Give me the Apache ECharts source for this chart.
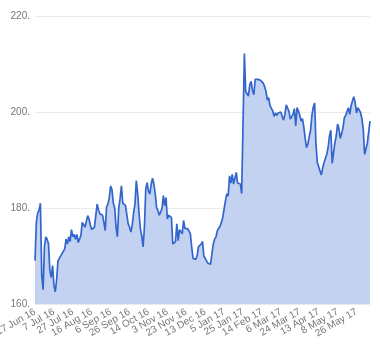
<!DOCTYPE html>
<html><head><meta charset="utf-8">
<script src="https://cdn.jsdelivr.net/npm/echarts@6/dist/echarts.min.js"></script>
<style>html,body{margin:0;padding:0;background:#fff}#c{width:380px;height:360px}</style>
</head><body><div id="c"></div>
<script>
// Tick label dates (every 14th trading day)
const tickLabels = ["17 Jun 16","7 Jul 16","27 Jul 16","16 Aug 16","6 Sep 16","26 Sep 16","14 Oct 16","3 Nov 16","23 Nov 16","13 Dec 16","5 Jan 17","25 Jan 17","14 Feb 17","6 Mar 17","24 Mar 17","13 Apr 17","8 May 17","26 May 17"];
const yTicks = [160, 180, 200, 220];
// Series values (one per trading day)
const prices = [
169,177,179,179.5,181,166,163,172,174,173.5,172.5,167,165.5,168,164,162.5,165,169,169.5,169.5,
170.5,170.5,171.5,173.5,172.5,174,173,175.5,174,174.5,173.5,174.5,172.8,172.6,174.3,177,176.7,176,175.7,178.4,
177.7,176.4,175.5,175.3,176,175.7,180.8,179.6,178.8,178.6,178.5,177,175.3,180.3,180.8,182.2,184.6,183.8,181,180,
176,174,180,182,184.6,181,181.2,180.5,180.8,176.7,176,175,176.5,179,180.8,185.7,183,179,175.7,174.2,
171.9,176,184,185.3,183.5,182.9,184.9,186.2,185,183,180.1,179.5,178.5,178.1,179.8,182.6,180.5,182.2,177.7,178.5,
178.8,178,172.5,172.2,173,176.7,173.2,175.5,175.2,174.6,177.4,175.7,175.5,175.7,175.2,174.6,171.9,169.5,169.1,169.3,
170,171.9,171.5,172.5,173,170,169.5,169,168.5,168.1,168.3,170.5,172.5,173.5,174,175.3,175.5,176.2,177,178,
179.8,181.5,183,182.5,186.7,185.2,187,185,185.3,187.4,185.2,185,185,183,182.8,212.2,204.3,203.8,203.3,205.7,
206.4,204.5,203.6,206.8,207,206.8,206.9,206.6,206.4,206,205.3,204.3,202.5,203,201.3,200.8,200.2,199.1,199.8,199.3,
199.8,199.5,200,199.1,198.3,199.5,201.5,200.8,200.2,198.5,198.2,199.5,200.7,197.1,200.9,200.2,199.3,198.1,198.6,196.9,
194.5,192.6,193.3,194.8,196.2,199.3,201,201.9,193.3,189.5,188.6,187.7,186.9,188.4,189.5,189.3,191.2,192.6,195,196.2,
189.3,191.5,193.6,195,197.5,196.5,194.5,195.5,196.7,198.8,199.3,199,200.9,199.5,201.3,202.3,203.2,202,199.8,200.9,
200.5,199.9,198.6,196.5,191.2,191.2,193.5,195.8,198.1
];
const step = 14;

// Build categories: each tick label date followed by the next trading (week)days
const mon = {Jan:0,Feb:1,Mar:2,Apr:3,May:4,Jun:5,Jul:6,Aug:7,Sep:8,Oct:9,Nov:10,Dec:11};
const monN = Object.keys(mon);
function parse(s){const p=s.split(' ');return new Date(2000+ +p[2], mon[p[1]], +p[0]);}
function fmt(d){return d.getDate()+' '+monN[d.getMonth()]+' '+String(d.getFullYear()).slice(2);}
function nextWeekday(d){do { d = new Date(d.getTime() + 86400000); } while (d.getDay() === 0 || d.getDay() === 6); return d;}
const categories = [];
let cur = null;
for (let k = 0; k < tickLabels.length && categories.length < prices.length; k++) {
  categories.push(tickLabels[k]);
  cur = parse(tickLabels[k]);
  for (let j = 1; j < step && categories.length < prices.length && k < tickLabels.length - 1; j++) {
    cur = nextWeekday(cur);
    categories.push(fmt(cur));
  }
}
while (categories.length < prices.length) { cur = nextWeekday(cur); categories.push(fmt(cur)); }

const labelStyle = {
  rotate: 30, color: '#777', fontSize: 10,
  fontFamily: 'Arial, Liberation Sans, sans-serif', margin: 7
};
function xAxisWith(phase) {
  return {
    type: 'category', data: categories, boundaryGap: false, gridIndex: 0, position: 'bottom',
    axisLine: {show: false}, axisTick: {show: false}, splitLine: {show: false},
    axisLabel: Object.assign({interval: (i) => i % (2 * step) === phase}, labelStyle)
  };
}

const chart = echarts.init(document.getElementById('c'), null, {renderer: 'canvas'});
chart.setOption({
  animation: false,
  grid: {left: 35, right: 10, top: 16, bottom: 56, containLabel: false, outerBoundsMode: 'none'},
  xAxis: [xAxisWith(0), xAxisWith(step)],
  yAxis: {
    type: 'value', min: yTicks[0], max: yTicks[yTicks.length - 1], interval: 20,
    axisLine: {show: false}, axisTick: {show: false},
    axisLabel: {
      color: '#777', fontSize: 10, fontFamily: 'Arial, Liberation Sans, sans-serif', margin: 5,
      formatter: v => v + '.'
    },
    splitLine: {lineStyle: {color: '#ebebeb', width: 1}}
  },
  series: [{
    type: 'line', data: prices, symbol: 'none', smooth: false, xAxisIndex: 0,
    lineStyle: {color: '#3366cc', width: 1.7},
    itemStyle: {color: '#3366cc'},
    areaStyle: {color: '#c3d2f0', opacity: 1}
  }]
});
</script></body></html>
